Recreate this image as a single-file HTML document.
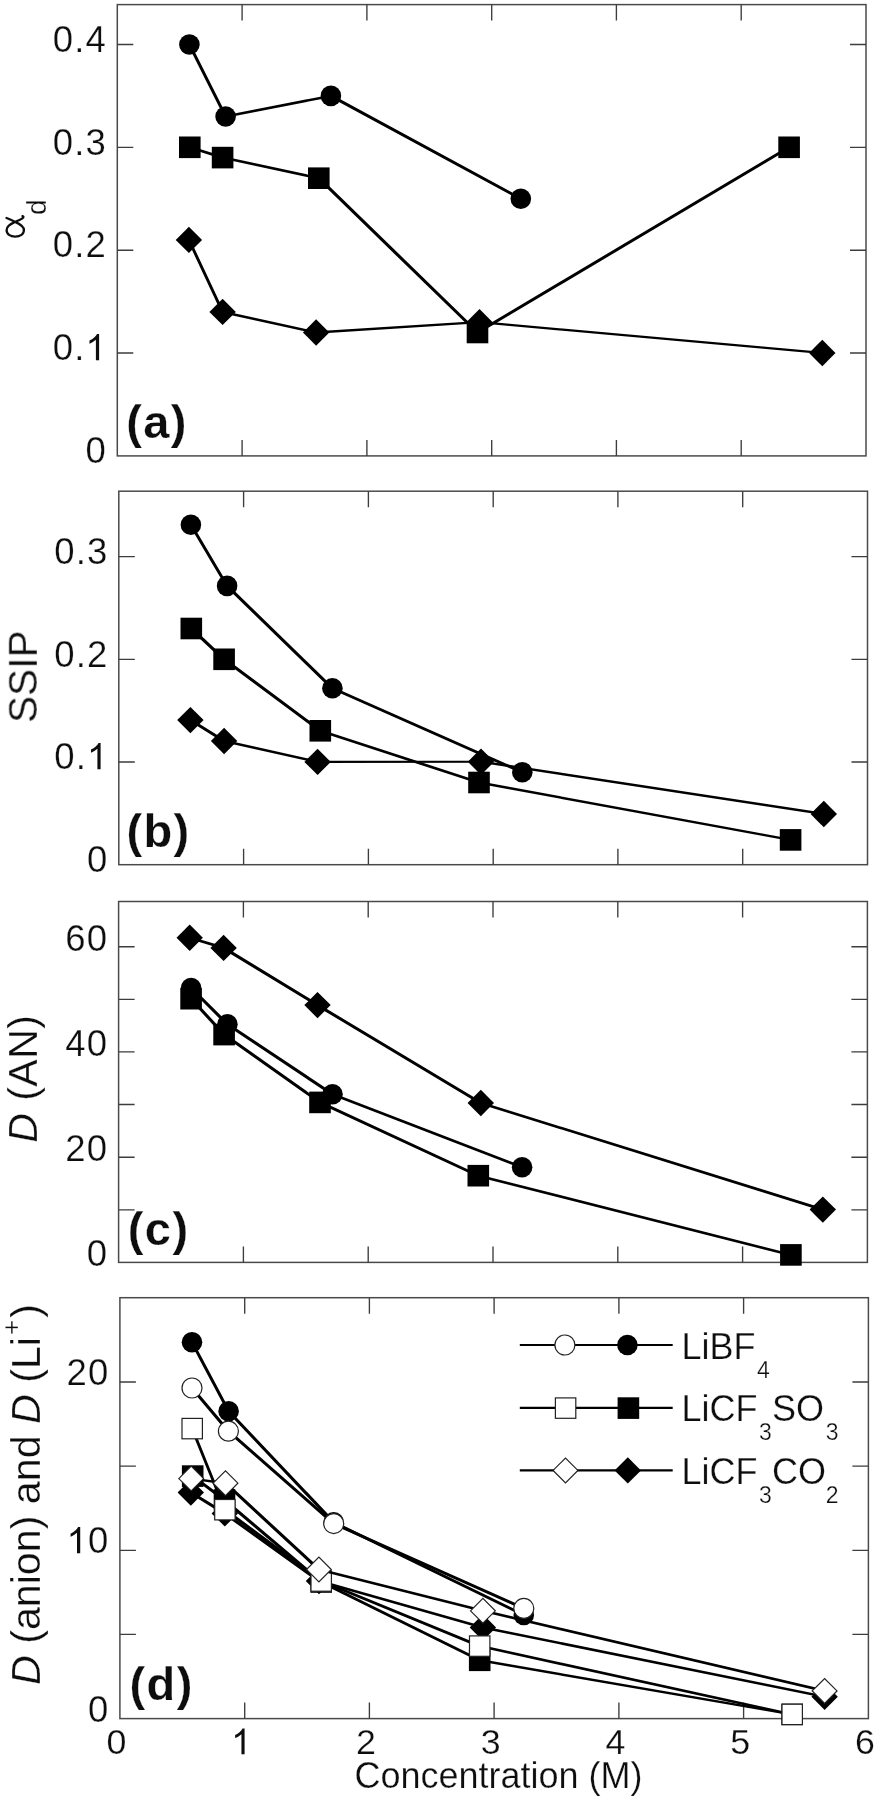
<!DOCTYPE html>
<html><head><meta charset="utf-8"><title>Figure</title>
<style>
html,body{margin:0;padding:0;background:#fff;}
svg{display:block;}
text{font-family:"Liberation Sans",sans-serif;fill:#111;stroke:#fff;stroke-width:0.25px;}
</style></head><body>
<svg width="876" height="1800" viewBox="0 0 876 1800">
<defs><filter id="b" x="0" y="0" width="876" height="1800" filterUnits="userSpaceOnUse"><feGaussianBlur stdDeviation="0.4"/></filter></defs>
<rect width="876" height="1800" fill="#fff"/>
<g filter="url(#b)">
<rect x="117.3" y="4.6" width="748.7" height="451.3" fill="#fff" stroke="#4a4a4a" stroke-width="1.5"/>
<path d="M242.1 4.6v16M242.1 455.9v-16M366.9 4.6v16M366.9 455.9v-16M491.7 4.6v16M491.7 455.9v-16M616.4 4.6v16M616.4 455.9v-16M741.2 4.6v16M741.2 455.9v-16M117.3 353.0h16M866.0 353.0h-16M117.3 250.2h16M866.0 250.2h-16M117.3 147.3h16M866.0 147.3h-16M117.3 44.5h16M866.0 44.5h-16" stroke="#3c3c3c" stroke-width="1.35" fill="none"/>
<path d="M189.4 44.5L225.6 116.5" stroke="#000" stroke-width="2.91" stroke-linecap="round"/>
<path d="M225.6 116.5L330.9 95.9" stroke="#000" stroke-width="2.51" stroke-linecap="round"/>
<path d="M330.9 95.9L520.8 198.8" stroke="#000" stroke-width="2.95" stroke-linecap="round"/>
<path d="M189.8 147.3L222.6 157.6" stroke="#000" stroke-width="2.69" stroke-linecap="round"/>
<path d="M222.6 157.6L318.8 178.2" stroke="#000" stroke-width="2.54" stroke-linecap="round"/>
<path d="M318.8 178.2L477.5 332.5" stroke="#000" stroke-width="3.10" stroke-linecap="round"/>
<path d="M477.5 332.5L789.1 147.3" stroke="#000" stroke-width="2.98" stroke-linecap="round"/>
<path d="M188.9 239.9L222.6 311.9" stroke="#000" stroke-width="2.88" stroke-linecap="round"/>
<path d="M222.6 311.9L316.1 332.5" stroke="#000" stroke-width="2.55" stroke-linecap="round"/>
<path d="M316.1 332.5L479.5 322.2" stroke="#000" stroke-width="2.27" stroke-linecap="round"/>
<path d="M479.5 322.2L822.3 353.0" stroke="#000" stroke-width="2.32" stroke-linecap="round"/>
<circle cx="189.4" cy="44.5" r="10.3" fill="#000"/>
<circle cx="225.6" cy="116.5" r="10.3" fill="#000"/>
<circle cx="330.9" cy="95.9" r="10.3" fill="#000"/>
<circle cx="520.8" cy="198.8" r="10.3" fill="#000"/>
<rect x="179.0" y="136.5" width="21.6" height="21.6" fill="#000"/>
<rect x="211.8" y="146.8" width="21.6" height="21.6" fill="#000"/>
<rect x="308.0" y="167.4" width="21.6" height="21.6" fill="#000"/>
<rect x="466.7" y="321.7" width="21.6" height="21.6" fill="#000"/>
<rect x="778.3" y="136.5" width="21.6" height="21.6" fill="#000"/>
<path d="M175.7 239.9L188.9 226.7L202.1 239.9L188.9 253.1Z" fill="#000"/>
<path d="M209.4 311.9L222.6 298.7L235.8 311.9L222.6 325.1Z" fill="#000"/>
<path d="M302.9 332.5L316.1 319.3L329.3 332.5L316.1 345.7Z" fill="#000"/>
<path d="M466.3 322.2L479.5 309.0L492.7 322.2L479.5 335.4Z" fill="#000"/>
<path d="M809.1 353.0L822.3 339.8L835.5 353.0L822.3 366.2Z" fill="#000"/>
<rect x="118.8" y="491.2" width="748.7" height="373.5" fill="#fff" stroke="#4a4a4a" stroke-width="1.5"/>
<path d="M243.6 491.2v16M243.6 864.7v-16M368.4 491.2v16M368.4 864.7v-16M493.2 491.2v16M493.2 864.7v-16M617.9 491.2v16M617.9 864.7v-16M742.7 491.2v16M742.7 864.7v-16M118.8 762.0h16M867.5 762.0h-16M118.8 659.3h16M867.5 659.3h-16M118.8 556.6h16M867.5 556.6h-16" stroke="#3c3c3c" stroke-width="1.35" fill="none"/>
<path d="M190.9 524.8L227.1 585.9" stroke="#000" stroke-width="2.98" stroke-linecap="round"/>
<path d="M227.1 585.9L332.4 688.3" stroke="#000" stroke-width="3.10" stroke-linecap="round"/>
<path d="M332.4 688.3L522.3 772.3" stroke="#000" stroke-width="2.85" stroke-linecap="round"/>
<path d="M191.3 628.5L224.1 659.3" stroke="#000" stroke-width="3.10" stroke-linecap="round"/>
<path d="M224.1 659.3L320.3 730.8" stroke="#000" stroke-width="3.06" stroke-linecap="round"/>
<path d="M320.3 730.8L479.0 782.5" stroke="#000" stroke-width="2.71" stroke-linecap="round"/>
<path d="M479.0 782.5L790.6 839.9" stroke="#000" stroke-width="2.49" stroke-linecap="round"/>
<path d="M190.4 720.1L224.1 741.0" stroke="#000" stroke-width="3.00" stroke-linecap="round"/>
<path d="M224.1 741.0L317.6 761.9" stroke="#000" stroke-width="2.55" stroke-linecap="round"/>
<path d="M317.6 761.9L481.0 761.7" stroke="#000" stroke-width="2.15" stroke-linecap="round"/>
<path d="M481.0 761.7L823.8 814.0" stroke="#000" stroke-width="2.43" stroke-linecap="round"/>
<circle cx="190.9" cy="524.8" r="10.3" fill="#000"/>
<circle cx="227.1" cy="585.9" r="10.3" fill="#000"/>
<circle cx="332.4" cy="688.3" r="10.3" fill="#000"/>
<circle cx="522.3" cy="772.3" r="10.3" fill="#000"/>
<rect x="180.5" y="617.7" width="21.6" height="21.6" fill="#000"/>
<rect x="213.3" y="648.5" width="21.6" height="21.6" fill="#000"/>
<rect x="309.5" y="720.0" width="21.6" height="21.6" fill="#000"/>
<rect x="468.2" y="771.7" width="21.6" height="21.6" fill="#000"/>
<rect x="779.8" y="829.1" width="21.6" height="21.6" fill="#000"/>
<path d="M177.2 720.1L190.4 706.9L203.6 720.1L190.4 733.3Z" fill="#000"/>
<path d="M210.9 741.0L224.1 727.8L237.3 741.0L224.1 754.2Z" fill="#000"/>
<path d="M304.4 761.9L317.6 748.7L330.8 761.9L317.6 775.1Z" fill="#000"/>
<path d="M467.8 761.7L481.0 748.5L494.2 761.7L481.0 774.9Z" fill="#000"/>
<path d="M810.6 814.0L823.8 800.8L837.0 814.0L823.8 827.2Z" fill="#000"/>
<rect x="118.6" y="901.5" width="748.8" height="360.9" fill="#fff" stroke="#4a4a4a" stroke-width="1.5"/>
<path d="M243.4 901.5v16M243.4 1262.4v-16M368.2 901.5v16M368.2 1262.4v-16M493.0 901.5v16M493.0 1262.4v-16M617.8 901.5v16M617.8 1262.4v-16M742.6 901.5v16M742.6 1262.4v-16M118.6 1209.8h16M867.4 1209.8h-16M118.6 1157.2h16M867.4 1157.2h-16M118.6 1104.5h16M867.4 1104.5h-16M118.6 1051.9h16M867.4 1051.9h-16M118.6 999.3h16M867.4 999.3h-16M118.6 946.7h16M867.4 946.7h-16" stroke="#3c3c3c" stroke-width="1.35" fill="none"/>
<path d="M191.1 988.0L227.4 1024.3" stroke="#000" stroke-width="3.10" stroke-linecap="round"/>
<path d="M227.4 1024.3L332.5 1094.2" stroke="#000" stroke-width="3.03" stroke-linecap="round"/>
<path d="M332.5 1094.2L522.1 1167.2" stroke="#000" stroke-width="2.79" stroke-linecap="round"/>
<path d="M191.1 998.7L224.1 1034.6" stroke="#000" stroke-width="3.10" stroke-linecap="round"/>
<path d="M224.1 1034.6L320.0 1102.4" stroke="#000" stroke-width="3.05" stroke-linecap="round"/>
<path d="M320.0 1102.4L478.3 1175.7" stroke="#000" stroke-width="2.87" stroke-linecap="round"/>
<path d="M478.3 1175.7L790.9 1254.9" stroke="#000" stroke-width="2.60" stroke-linecap="round"/>
<path d="M189.7 937.7L223.6 947.9" stroke="#000" stroke-width="2.67" stroke-linecap="round"/>
<path d="M223.6 947.9L317.5 1005.1" stroke="#000" stroke-width="2.99" stroke-linecap="round"/>
<path d="M317.5 1005.1L480.8 1103.0" stroke="#000" stroke-width="2.99" stroke-linecap="round"/>
<path d="M480.8 1103.0L822.8 1209.6" stroke="#000" stroke-width="2.69" stroke-linecap="round"/>
<circle cx="191.1" cy="988.0" r="10.3" fill="#000"/>
<circle cx="227.4" cy="1024.3" r="10.3" fill="#000"/>
<circle cx="332.5" cy="1094.2" r="10.3" fill="#000"/>
<circle cx="522.1" cy="1167.2" r="10.3" fill="#000"/>
<rect x="180.3" y="987.9" width="21.6" height="21.6" fill="#000"/>
<rect x="213.3" y="1023.8" width="21.6" height="21.6" fill="#000"/>
<rect x="309.2" y="1091.6" width="21.6" height="21.6" fill="#000"/>
<rect x="467.5" y="1164.9" width="21.6" height="21.6" fill="#000"/>
<rect x="780.1" y="1244.1" width="21.6" height="21.6" fill="#000"/>
<path d="M176.5 937.7L189.7 924.5L202.9 937.7L189.7 950.9Z" fill="#000"/>
<path d="M210.4 947.9L223.6 934.7L236.8 947.9L223.6 961.1Z" fill="#000"/>
<path d="M304.3 1005.1L317.5 991.9L330.7 1005.1L317.5 1018.3Z" fill="#000"/>
<path d="M467.6 1103.0L480.8 1089.8L494.0 1103.0L480.8 1116.2Z" fill="#000"/>
<path d="M809.6 1209.6L822.8 1196.4L836.0 1209.6L822.8 1222.8Z" fill="#000"/>
<rect x="119.9" y="1297.7" width="748.5" height="420.9" fill="#fff" stroke="#4a4a4a" stroke-width="1.5"/>
<path d="M244.7 1297.7v16M244.7 1718.6v-16M369.4 1297.7v16M369.4 1718.6v-16M494.1 1297.7v16M494.1 1718.6v-16M618.9 1297.7v16M618.9 1718.6v-16M743.6 1297.7v16M743.6 1718.6v-16M119.9 1634.4h16M868.4 1634.4h-16M119.9 1550.3h16M868.4 1550.3h-16M119.9 1466.1h16M868.4 1466.1h-16M119.9 1382.0h16M868.4 1382.0h-16" stroke="#3c3c3c" stroke-width="1.35" fill="none"/>
<path d="M192.0 1342.2L228.6 1411.3" stroke="#000" stroke-width="2.94" stroke-linecap="round"/>
<path d="M228.6 1411.3L333.7 1522.4" stroke="#000" stroke-width="3.10" stroke-linecap="round"/>
<path d="M333.7 1522.4L523.8 1615.0" stroke="#000" stroke-width="2.90" stroke-linecap="round"/>
<circle cx="192.0" cy="1342.2" r="10.3" fill="#000"/>
<circle cx="228.6" cy="1411.3" r="10.3" fill="#000"/>
<circle cx="333.7" cy="1522.4" r="10.3" fill="#000"/>
<circle cx="523.8" cy="1615.0" r="10.3" fill="#000"/>
<path d="M192.7 1476.1L224.5 1500.0" stroke="#000" stroke-width="3.06" stroke-linecap="round"/>
<path d="M224.5 1500.0L321.2 1582.0" stroke="#000" stroke-width="3.09" stroke-linecap="round"/>
<path d="M321.2 1582.0L479.7 1660.3" stroke="#000" stroke-width="2.90" stroke-linecap="round"/>
<path d="M479.7 1660.3L792.2 1714.4" stroke="#000" stroke-width="2.47" stroke-linecap="round"/>
<rect x="181.9" y="1465.3" width="21.6" height="21.6" fill="#000"/>
<rect x="213.7" y="1489.2" width="21.6" height="21.6" fill="#000"/>
<rect x="310.4" y="1571.2" width="21.6" height="21.6" fill="#000"/>
<rect x="468.9" y="1649.5" width="21.6" height="21.6" fill="#000"/>
<rect x="781.4" y="1703.6" width="21.6" height="21.6" fill="#000"/>
<path d="M190.8 1492.5L224.8 1513.4" stroke="#000" stroke-width="3.00" stroke-linecap="round"/>
<path d="M224.8 1513.4L319.0 1581.0" stroke="#000" stroke-width="3.05" stroke-linecap="round"/>
<path d="M319.0 1581.0L482.9 1627.5" stroke="#000" stroke-width="2.65" stroke-linecap="round"/>
<path d="M482.9 1627.5L824.6 1696.7" stroke="#000" stroke-width="2.52" stroke-linecap="round"/>
<path d="M177.6 1492.5L190.8 1479.3L204.0 1492.5L190.8 1505.7Z" fill="#000"/>
<path d="M211.6 1513.4L224.8 1500.2L238.0 1513.4L224.8 1526.6Z" fill="#000"/>
<path d="M305.8 1581.0L319.0 1567.8L332.2 1581.0L319.0 1594.2Z" fill="#000"/>
<path d="M469.7 1627.5L482.9 1614.3L496.1 1627.5L482.9 1640.7Z" fill="#000"/>
<path d="M811.4 1696.7L824.6 1683.5L837.8 1696.7L824.6 1709.9Z" fill="#000"/>
<path d="M192.0 1388.0L228.4 1431.2" stroke="#000" stroke-width="3.09" stroke-linecap="round"/>
<path d="M228.4 1431.2L333.7 1523.6" stroke="#000" stroke-width="3.09" stroke-linecap="round"/>
<path d="M333.7 1523.6L523.8 1608.4" stroke="#000" stroke-width="2.86" stroke-linecap="round"/>
<circle cx="192.0" cy="1388.0" r="10.0" fill="#fff" stroke="#222" stroke-width="1.2"/>
<circle cx="228.4" cy="1431.2" r="10.0" fill="#fff" stroke="#222" stroke-width="1.2"/>
<circle cx="333.7" cy="1523.6" r="10.0" fill="#fff" stroke="#222" stroke-width="1.2"/>
<circle cx="523.8" cy="1608.4" r="10.0" fill="#fff" stroke="#222" stroke-width="1.2"/>
<path d="M192.2 1428.6L224.9 1509.7" stroke="#000" stroke-width="2.81" stroke-linecap="round"/>
<path d="M224.9 1509.7L321.2 1581.0" stroke="#000" stroke-width="3.06" stroke-linecap="round"/>
<path d="M321.2 1581.0L479.7 1646.1" stroke="#000" stroke-width="2.82" stroke-linecap="round"/>
<path d="M479.7 1646.1L792.2 1714.4" stroke="#000" stroke-width="2.55" stroke-linecap="round"/>
<rect x="182.0" y="1418.4" width="20.4" height="20.4" fill="#fff" stroke="#222" stroke-width="1.2"/>
<rect x="214.7" y="1499.5" width="20.4" height="20.4" fill="#fff" stroke="#222" stroke-width="1.2"/>
<rect x="311.0" y="1570.8" width="20.4" height="20.4" fill="#fff" stroke="#222" stroke-width="1.2"/>
<rect x="469.5" y="1635.9" width="20.4" height="20.4" fill="#fff" stroke="#222" stroke-width="1.2"/>
<rect x="782.0" y="1704.2" width="20.4" height="20.4" fill="#fff" stroke="#222" stroke-width="1.2"/>
<path d="M191.2 1478.6L225.5 1483.2" stroke="#000" stroke-width="2.40" stroke-linecap="round"/>
<path d="M225.5 1483.2L318.9 1569.5" stroke="#000" stroke-width="3.10" stroke-linecap="round"/>
<path d="M318.9 1569.5L482.9 1610.8" stroke="#000" stroke-width="2.60" stroke-linecap="round"/>
<path d="M482.9 1610.8L824.6 1690.9" stroke="#000" stroke-width="2.57" stroke-linecap="round"/>
<path d="M178.8 1478.6L191.2 1466.2L203.6 1478.6L191.2 1491.0Z" fill="#fff" stroke="#222" stroke-width="1.2"/>
<path d="M213.1 1483.2L225.5 1470.8L237.9 1483.2L225.5 1495.6Z" fill="#fff" stroke="#222" stroke-width="1.2"/>
<path d="M306.5 1569.5L318.9 1557.1L331.3 1569.5L318.9 1581.9Z" fill="#fff" stroke="#222" stroke-width="1.2"/>
<path d="M470.5 1610.8L482.9 1598.4L495.3 1610.8L482.9 1623.2Z" fill="#fff" stroke="#222" stroke-width="1.2"/>
<path d="M812.2 1690.9L824.6 1678.5L837.0 1690.9L824.6 1703.3Z" fill="#fff" stroke="#222" stroke-width="1.2"/>
<path d="M519.8 1345H672.7" stroke="#000" stroke-width="2.2"/>
<circle cx="564.9" cy="1345.0" r="10.0" fill="#fff" stroke="#222" stroke-width="1.2"/>
<circle cx="627.4" cy="1345.0" r="10.3" fill="#000"/>
<path d="M519.8 1407.8H672.7" stroke="#000" stroke-width="2.2"/>
<rect x="555.4" y="1397.9" width="20.4" height="20.4" fill="#fff" stroke="#222" stroke-width="1.2"/>
<rect x="617.6" y="1397.3" width="21.6" height="21.6" fill="#000"/>
<path d="M519.8 1470.4H672.7" stroke="#000" stroke-width="2.2"/>
<path d="M553.1 1470.4L565.5 1458.0L577.9 1470.4L565.5 1482.8Z" fill="#fff" stroke="#222" stroke-width="1.2"/>
<path d="M614.6 1470.4L627.8 1457.2L641.0 1470.4L627.8 1483.6Z" fill="#000"/>
<text x="85.51" y="463.1" font-size="36.5">0</text>
<text x="52.66" y="360.2" font-size="36.5">0</text>
<text x="74.16" y="360.2" font-size="36.5">.</text>
<path d="M763 0H583V1147Q518 1085 412.5 1023T223 930V1104Q374 1175 487 1276T647 1472H763Z" transform="translate(85.51,360.2) scale(0.01782,-0.01782)" fill="#111"/>
<text x="52.66" y="257.4" font-size="36.5">0</text>
<text x="74.16" y="257.4" font-size="36.5">.</text>
<text x="85.51" y="257.4" font-size="36.5">2</text>
<text x="52.66" y="154.5" font-size="36.5">0</text>
<text x="74.16" y="154.5" font-size="36.5">.</text>
<text x="85.51" y="154.5" font-size="36.5">3</text>
<text x="52.66" y="51.7" font-size="36.5">0</text>
<text x="74.16" y="51.7" font-size="36.5">.</text>
<text x="85.51" y="51.7" font-size="36.5">4</text>
<text x="87.01" y="871.9" font-size="36.5">0</text>
<text x="54.16" y="769.2" font-size="36.5">0</text>
<text x="75.66" y="769.2" font-size="36.5">.</text>
<path d="M763 0H583V1147Q518 1085 412.5 1023T223 930V1104Q374 1175 487 1276T647 1472H763Z" transform="translate(87.01,769.2) scale(0.01782,-0.01782)" fill="#111"/>
<text x="54.16" y="666.5" font-size="36.5">0</text>
<text x="75.66" y="666.5" font-size="36.5">.</text>
<text x="87.01" y="666.5" font-size="36.5">2</text>
<text x="54.16" y="563.8" font-size="36.5">0</text>
<text x="75.66" y="563.8" font-size="36.5">.</text>
<text x="87.01" y="563.8" font-size="36.5">3</text>
<text x="86.81" y="1266.4" font-size="36.5">0</text>
<text x="65.31" y="1161.2" font-size="36.5">2</text>
<text x="86.81" y="1161.2" font-size="36.5">0</text>
<text x="65.31" y="1055.9" font-size="36.5">4</text>
<text x="86.81" y="1055.9" font-size="36.5">0</text>
<text x="65.31" y="950.7" font-size="36.5">6</text>
<text x="86.81" y="950.7" font-size="36.5">0</text>
<text x="88.11" y="1721.6" font-size="36.5">0</text>
<path d="M763 0H583V1147Q518 1085 412.5 1023T223 930V1104Q374 1175 487 1276T647 1472H763Z" transform="translate(66.61,1553.3) scale(0.01782,-0.01782)" fill="#111"/>
<text x="88.11" y="1553.3" font-size="36.5">0</text>
<text x="66.61" y="1385.0" font-size="36.5">2</text>
<text x="88.11" y="1385.0" font-size="36.5">0</text>
<text x="106.55" y="1754.3" font-size="35.8">0</text>
<path d="M763 0H583V1147Q518 1085 412.5 1023T223 930V1104Q374 1175 487 1276T647 1472H763Z" transform="translate(231.25,1754.3) scale(0.01748,-0.01748)" fill="#111"/>
<text x="356.05" y="1754.3" font-size="35.8">2</text>
<text x="480.85" y="1754.3" font-size="35.8">3</text>
<text x="605.55" y="1754.3" font-size="35.8">4</text>
<text x="730.25" y="1754.3" font-size="35.8">5</text>
<text x="855.05" y="1754.3" font-size="35.8">6</text>
<text x="498.5" y="1787.6" font-size="36" text-anchor="middle" font-weight="normal" >Concentration (M)</text>
<text x="126.2" y="438.4" font-size="47" text-anchor="start" font-weight="bold" letter-spacing="1.4">(a)</text>
<text x="126.4" y="846.6" font-size="47" text-anchor="start" font-weight="bold" letter-spacing="1.4">(b)</text>
<text x="127.8" y="1244.8" font-size="47" text-anchor="start" font-weight="bold" letter-spacing="1.4">(c)</text>
<text x="129.5" y="1700.2" font-size="47" text-anchor="start" font-weight="bold" letter-spacing="1.4">(d)</text>
<path d="M20.3,-18.6C19,-15 17.6,-12.3 16.2,-9.5C14.2,-5 12,-1.2 8.3,-1.2C4,-1.2 1.7,-5 1.7,-9.85C1.7,-14.8 4,-18.5 8.3,-18.5C12,-18.5 14.2,-15 16.2,-10.5C17.8,-6.5 19,-3.5 20.6,-2C21.3,-1.4 22,-1.6 22.2,-2.6" transform="translate(25.1,238.3) rotate(-90)" fill="none" stroke="#111" stroke-width="2.3" stroke-linecap="round"/>
<text transform="translate(45.7,215) rotate(-90)" font-size="28">d</text>
<text transform="translate(36.8,676.7) rotate(-90)" font-size="40.5" text-anchor="middle">SSIP</text>
<text transform="translate(37,1078.7) rotate(-90)" font-size="41" letter-spacing="0.5" text-anchor="middle"><tspan font-style="italic">D</tspan> (AN)</text>
<text transform="translate(40.4,1685) rotate(-90)" font-size="41.2"><tspan font-style="italic">D</tspan> (anion) and <tspan font-style="italic">D</tspan> (Li<tspan font-size="26" dx="2" dy="-20">+</tspan><tspan dx="2" dy="20">)</tspan></text>
<text font-size="36"><tspan x="681.5" y="1358.8">LiBF</tspan><tspan x="757" y="1377.8" font-size="23">4</tspan></text>
<text font-size="36"><tspan x="681.5" y="1421.1">LiCF</tspan><tspan x="759" y="1440.1" font-size="23">3</tspan><tspan x="772" y="1421.1">SO</tspan><tspan x="825.7" y="1440.1" font-size="23">3</tspan></text>
<text font-size="36"><tspan x="681.5" y="1483.5">LiCF</tspan><tspan x="759" y="1502.5" font-size="23">3</tspan><tspan x="772" y="1483.5">CO</tspan><tspan x="825.7" y="1502.5" font-size="23">2</tspan></text>
</g>
</svg>
</body></html>
